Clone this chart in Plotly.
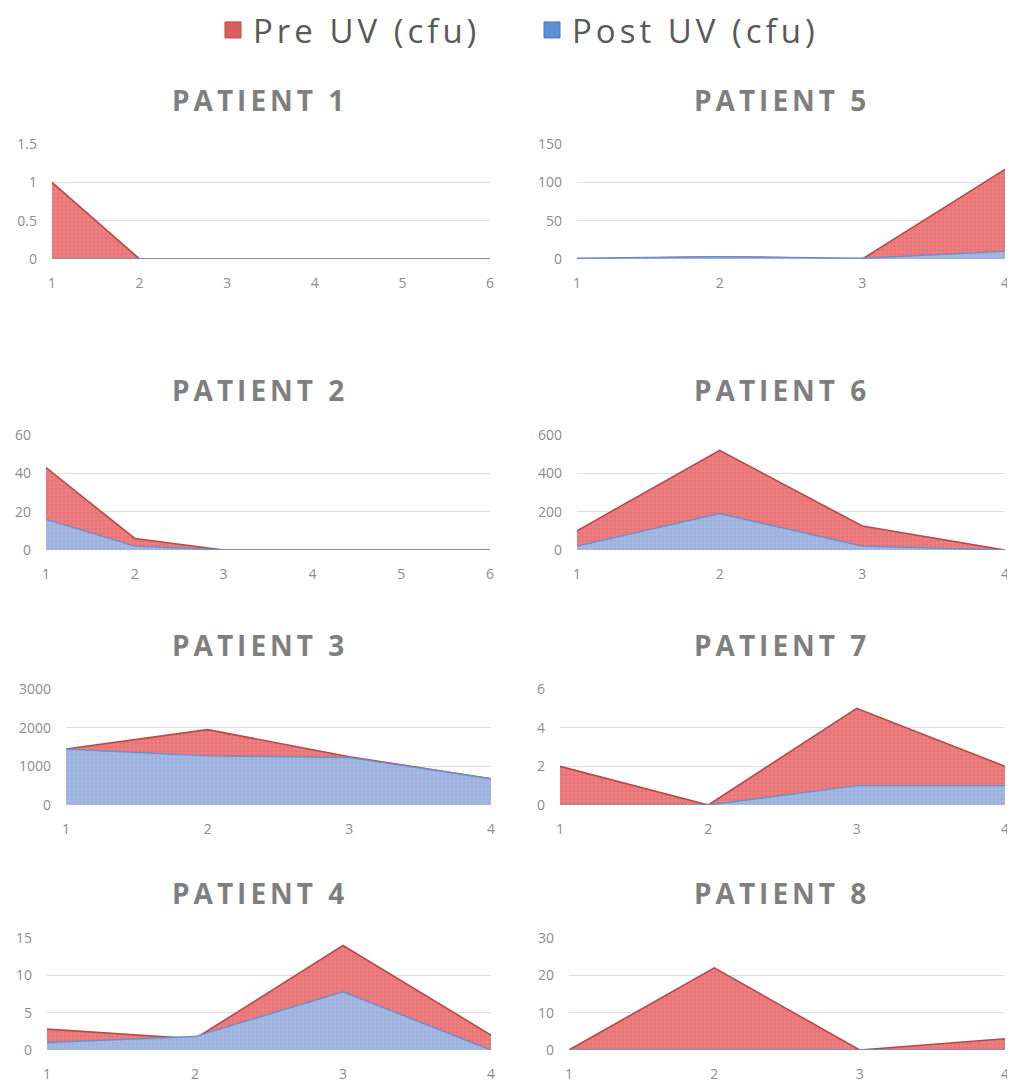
import plotly.graph_objects as go

# ---- data ----
x6 = [1, 2, 3, 4, 5, 6]
x4 = [1, 2, 3, 4]

titles = ["PATIENT 1", "PATIENT 2", "PATIENT 3", "PATIENT 4",
          "PATIENT 5", "PATIENT 6", "PATIENT 7", "PATIENT 8"]

p1_pre = [1, 0, 0, 0, 0, 0]
p1_post = [0, 0, 0, 0, 0, 0]
p2_pre = [43, 6, 0, 0, 0, 0]
p2_post = [16, 2, 0, 0, 0, 0]
p3_pre = [1450, 1950, 1250, 680]
p3_post = [1450, 1270, 1230, 680]
p4_pre = [2.8, 1.5, 14, 2]
p4_post = [1, 1.8, 7.8, 0]
p5_pre = [0, 3, 0, 117]
p5_post = [1, 3, 1, 10]
p6_pre = [100, 520, 125, 0]
p6_post = [20, 190, 20, 0]
p7_pre = [2, 0, 5, 2]
p7_post = [0, 0, 1, 1]
p8_pre = [0, 22, 0, 3]
p8_post = [0, 0, 0, 0]

y_max = [1.5, 60, 3000, 15, 150, 600, 6, 30]
y_dtick = [0.5, 20, 1000, 5, 50, 200, 2, 10]

series_names = ["Pre UV (cfu)", "Post UV (cfu)"]

panels = [
    (x6, p1_pre, p1_post),
    (x6, p2_pre, p2_post),
    (x4, p3_pre, p3_post),
    (x4, p4_pre, p4_post),
    (x4, p5_pre, p5_post),
    (x4, p6_pre, p6_post),
    (x4, p7_pre, p7_post),
    (x4, p8_pre, p8_post),
]

# ---- layout geometry (screen pixels; page body has an 8px margin) ----
OFF = 8
W, H = 1015 - OFF, 1082 - OFF


def fx(p):
    return (p - OFF) / W


def fy(p):
    return 1 - (p - OFF) / H


boxes = [  # x0, x1, ytop, ybottom
    (52, 490, 144, 259),
    (46, 490, 435, 550),
    (66, 491, 689, 805),
    (47, 491, 938, 1050),
    (577, 1005, 144, 259),
    (577, 1005, 435, 550),
    (560, 1005, 689, 805),
    (569, 1005, 938, 1050),
]
title_pos = [(258, 100), (258, 390), (258, 645), (258, 893),
             (780, 100), (780, 390), (780, 645), (780, 893)]

pre_fill = "rgba(236,120,122,0.96)"
pre_line = "#B84848"
post_fill = "rgba(163,186,228,0.97)"
post_line = "#6A8FCB"

fig = go.Figure()
layout = {}
annotations = []
tickfont = dict(family="Open Sans", size=14, color="#8c8c8c")
for i, (xs, pre, post) in enumerate(panels):
    n = i + 1
    xa = "x" if n == 1 else f"x{n}"
    ya = "y" if n == 1 else f"y{n}"
    fig.add_trace(go.Scatter(
        x=xs, y=pre, name=series_names[0], mode="lines", fill="tozeroy",
        fillcolor=pre_fill, line=dict(color=pre_line, width=1.6),
        fillpattern=dict(shape=".", bgcolor=pre_fill,
                         fgcolor="rgba(205,90,90,0.55)", size=4,
                         solidity=0.35),
        xaxis=xa, yaxis=ya, showlegend=False, hoverinfo="skip"))
    fig.add_trace(go.Scatter(
        x=xs, y=post, name=series_names[1], mode="lines", fill="tozeroy",
        fillcolor=post_fill, line=dict(color=post_line, width=1.4),
        fillpattern=dict(shape=".", bgcolor=post_fill,
                         fgcolor="rgba(120,150,210,0.5)", size=4,
                         solidity=0.35),
        xaxis=xa, yaxis=ya, showlegend=False, hoverinfo="skip"))
    x0, x1, yt, yb = boxes[i]
    layout["xaxis" if n == 1 else f"xaxis{n}"] = dict(
        domain=[fx(x0), fx(x1)], range=[1, max(xs)], tickmode="linear",
        tick0=1, dtick=1, showgrid=False, zeroline=False, showline=False,
        ticks="", ticklabelstandoff=14, anchor=ya, tickfont=tickfont,
        fixedrange=True)
    layout["yaxis" if n == 1 else f"yaxis{n}"] = dict(
        domain=[fy(yb), fy(yt)], range=[0, y_max[i] * 1.0001],
        tickmode="linear", tick0=0, dtick=y_dtick[i], showgrid=True,
        gridcolor="#dedede", gridwidth=1, zeroline=False, showline=False,
        ticks="", ticklabelstandoff=14, anchor=xa, tickfont=tickfont,
        fixedrange=True)
    tx, ty = title_pos[i]
    annotations.append(dict(
        text=f'<b><span style="letter-spacing:4px">{titles[i]}</span></b>',
        x=fx(tx + 2), y=fy(ty), xref="paper",
        yref="paper", xanchor="center", yanchor="middle", showarrow=False,
        font=dict(family="Open Sans", size=28, color="#7f7f7f")))

# legend-only entries (square swatches)
for name, col, edge in [(series_names[0], "#D9605E", "#B84848"),
                        (series_names[1], "#5B8FD6", "#4A78B8")]:
    fig.add_trace(go.Scatter(
        x=[None], y=[None], mode="markers",
        name=f'<span style="letter-spacing:4px">{name}</span>',
        marker=dict(symbol="square", size=22, color=col,
                    line=dict(color=edge, width=1)),
        showlegend=True, hoverinfo="skip"))

fig.update_layout(
    **layout,
    annotations=annotations,
    width=W, height=H,
    margin=dict(l=0, r=0, t=0, b=0, autoexpand=False),
    paper_bgcolor="white", plot_bgcolor="white",
    showlegend=True,
    legend=dict(orientation="h", x=fx(213), xanchor="left", y=fy(2),
                yanchor="top", font=dict(family="Open Sans", size=33,
                                         color="#595959"),
                itemwidth=30, entrywidth=274, entrywidthmode="pixels",
                tracegroupgap=0, bgcolor="rgba(0,0,0,0)"),
)

fig.write_html("out.html")
